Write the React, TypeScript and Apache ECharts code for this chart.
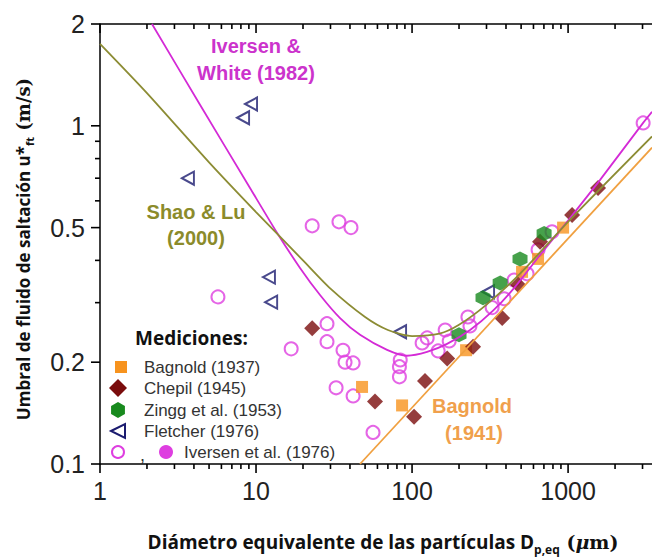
import React, { useEffect, useRef } from 'react';
import * as echarts from 'echarts';

// ---- data (diameter in µm, threshold in m/s) ----
const bagnold1937 = [[47.8, 0.169], [86.3, 0.149], [222, 0.217], [507, 0.37], [642, 0.404], [929, 0.5]];
const chepil1945 = [[22.9, 0.252], [57.9, 0.153], [103, 0.138], [121, 0.176], [168, 0.205], [246, 0.222], [378, 0.27], [478, 0.339], [661, 0.454], [1061, 0.545], [1557, 0.655]];
const zingg1953 = [[200, 0.241], [285, 0.31], [367, 0.343], [492, 0.404], [702, 0.48]];
const fletcher1976 = [[3.66, 0.7], [8.26, 1.056], [9.29, 1.16], [12.1, 0.357], [12.5, 0.301], [83.8, 0.246], [307, 0.323]];
const iversen1976 = [
  [5.7, 0.312], [16.8, 0.219], [22.9, 0.506], [34.0, 0.52], [40.6, 0.5], [28.5, 0.26], [28.5, 0.23],
  [36.1, 0.217], [37.2, 0.2], [41.9, 0.199], [32.6, 0.168], [41.9, 0.159], [56.2, 0.124],
  [84, 0.203], [83, 0.194], [83, 0.181], [116, 0.228], [125, 0.236], [147, 0.216], [163, 0.249],
  [173, 0.231], [228, 0.272], [235, 0.256], [326, 0.29], [389, 0.308], [451, 0.35], [546, 0.365],
  [642, 0.43], [789, 0.486], [3027, 1.02],
];
const iversenWhite1982 = [[2.154, 2.0], [4.375, 1.154], [9.15, 0.655], [13.63, 0.483], [19.14, 0.38], [25.72, 0.316], [34.56, 0.27], [46.42, 0.241], [69.15, 0.2175], [92.9, 0.209], [124.8, 0.2145], [167.6, 0.2265], [235.4, 0.249], [330.5, 0.284], [457.4, 0.334], [661.5, 0.415], [1030, 0.534], [1604, 0.692], [3026, 1.02], [3450, 1.1]];
const shaoLu2000 = [[1, 1.748], [2, 1.25], [5, 0.78], [10, 0.556], [20, 0.4], [30, 0.33], [50, 0.272], [70, 0.249], [100, 0.239], [150, 0.243], [200, 0.258], [300, 0.296], [500, 0.368], [1000, 0.52], [3450, 0.93]];
const bagnold1941 = [[46.4, 0.1], [3450, 0.862]];

const xMajor = [1, 10, 100, 1000];
const xMinor = [2, 3, 4, 5, 6, 7, 8, 9, 20, 30, 40, 50, 60, 70, 80, 90, 200, 300, 400, 500, 600, 700, 800, 900, 2000, 3000];
const yMajor = [0.1, 0.2, 0.5, 1, 2];
const yMinor = [0.3, 0.4, 0.6, 0.7, 0.8, 0.9];

const C = {
  orange: '#f7931e',
  maroon: '#7a0c0c',
  green: '#188a1e',
  navy: '#1b1b6f',
  magenta: '#de3ee0',
  magLine: '#d42ad6',
  olive: '#8c8c34',
  bagLine: '#f0a040',
};

const SANS = 'Liberation Sans, Arial, sans-serif';
const OPEN = 'Open Sans, sans-serif';
const SERIF = 'DejaVu Serif, Liberation Serif, serif';

const TRI = 'path://M0,5L10,0L10,10Z';
const HEX = 'path://M5,0L9.33,2.5L9.33,7.5L5,10L0.67,7.5L0.67,2.5Z';

const X_MIN = 1, X_MAX = 3450, Y_MIN = 0.1, Y_MAX = 2;
// plot box (grid) in pixels
const G = { left: 100, top: 24, right: 652, bottom: 464 };
const TW = 1.6;

export default function App() {
  const ref = useRef<HTMLDivElement>(null);
  useEffect(() => {
    if (!ref.current) return;
    const chart = echarts.init(ref.current, undefined, { renderer: 'svg' });
    const fmt = (v: number) => String(v);
    const axisLine = { show: true, onZero: false, lineStyle: { color: '#000', width: 1.5 } };

    // tick marks (axis decoration), on the same log mapping as the grid
    const lx = (v: number) => G.left + ((G.right - G.left) * (Math.log10(v) - Math.log10(X_MIN))) / (Math.log10(X_MAX) - Math.log10(X_MIN));
    const ly = (v: number) => G.bottom - ((G.bottom - G.top) * (Math.log10(v) - Math.log10(Y_MIN))) / (Math.log10(Y_MAX) - Math.log10(Y_MIN));
    const ticks: any[] = [];
    const addX = (vals: number[], len: number) => vals.forEach((v) => {
      const x = lx(v);
      ticks.push({ type: 'rect', shape: { x: x - TW / 2, y: G.bottom, width: TW, height: len }, style: { fill: '#000' } });
      ticks.push({ type: 'rect', shape: { x: x - TW / 2, y: G.top, width: TW, height: len }, style: { fill: '#000' } });
    });
    const addY = (vals: number[], len: number) => vals.forEach((v) => {
      const y = ly(v);
      ticks.push({ type: 'rect', shape: { x: G.left - len, y: y - TW / 2, width: len, height: TW }, style: { fill: '#000' } });
    });
    addX(xMajor, 9);
    addX(xMinor, 5);
    addY(yMajor, 9);
    addY(yMinor, 5);
    ticks.push({ type: 'rect', shape: { x: G.left, y: G.top - 0.75, width: G.right - G.left, height: 1.5 }, style: { fill: '#000' } });

    const legendY = [367, 388, 410, 431, 452];
    const legendText = (t: string, x: number, y: number) => ({
      type: 'text', x, y,
      style: { text: t, fontFamily: SANS, fontSize: 17, fill: '#333', verticalAlign: 'middle', align: 'left' },
    });
    const hexPts = (cx: number, cy: number, r: number) => {
      const p: number[][] = [];
      for (let k = 0; k < 6; k++) {
        const a = -Math.PI / 2 + (k * Math.PI) / 3;
        p.push([cx + r * Math.cos(a), cy + r * Math.sin(a)]);
      }
      return p;
    };

    const graphics: any[] = [
      ...ticks,
      // curve labels
      { type: 'text', x: 256, y: 46, style: { text: 'Iversen &', fontFamily: SANS, fontWeight: 'bold', fontSize: 20, fill: '#cc33cc', align: 'center', verticalAlign: 'middle' } },
      { type: 'text', x: 256, y: 73, style: { text: 'White (1982)', fontFamily: SANS, fontWeight: 'bold', fontSize: 20, fill: '#cc33cc', align: 'center', verticalAlign: 'middle' } },
      { type: 'text', x: 196, y: 212, style: { text: 'Shao & Lu', fontFamily: SANS, fontWeight: 'bold', fontSize: 20, fill: '#8b8b2b', align: 'center', verticalAlign: 'middle' } },
      { type: 'text', x: 196, y: 238, style: { text: '(2000)', fontFamily: SANS, fontWeight: 'bold', fontSize: 20, fill: '#8b8b2b', align: 'center', verticalAlign: 'middle' } },
      { type: 'text', x: 472, y: 406, style: { text: 'Bagnold', fontFamily: SANS, fontWeight: 'bold', fontSize: 20, fill: '#f0a04c', align: 'center', verticalAlign: 'middle' } },
      { type: 'text', x: 474, y: 433, style: { text: '(1941)', fontFamily: SANS, fontWeight: 'bold', fontSize: 20, fill: '#f0a04c', align: 'center', verticalAlign: 'middle' } },
      // legend
      { type: 'text', x: 135, y: 338, style: { text: 'Mediciones:', fontFamily: OPEN, fontWeight: 'bold', fontSize: 19, fill: '#111', verticalAlign: 'middle' } },
      { type: 'rect', shape: { x: 115, y: legendY[0] - 6, width: 12, height: 12 }, style: { fill: C.orange } },
      { type: 'polygon', shape: { points: [[118, legendY[1] - 9], [127, legendY[1]], [118, legendY[1] + 9], [109, legendY[1]]] }, style: { fill: C.maroon } },
      { type: 'polygon', shape: { points: hexPts(118, legendY[2], 8) }, style: { fill: C.green } },
      { type: 'polygon', shape: { points: [[111, legendY[3]], [125, legendY[3] - 7], [125, legendY[3] + 7]] }, style: { fill: 'none', stroke: C.navy, lineWidth: 2 } },
      { type: 'circle', shape: { cx: 118, cy: legendY[4], r: 6 }, style: { fill: 'none', stroke: C.magenta, lineWidth: 2 } },
      { type: 'text', x: 140, y: legendY[4] + 3, style: { text: ',', fontFamily: SANS, fontSize: 18, fill: '#333', verticalAlign: 'middle' } },
      { type: 'circle', shape: { cx: 166, cy: legendY[4], r: 7 }, style: { fill: C.magenta } },
      legendText('Bagnold (1937)', 144, legendY[0]),
      legendText('Chepil (1945)', 144, legendY[1]),
      legendText('Zingg et al. (1953)', 144, legendY[2]),
      legendText('Fletcher (1976)', 144, legendY[3]),
      legendText('Iversen et al. (1976)', 184, legendY[4]),
      // axis titles
      {
        type: 'text', x: 383, y: 542,
        style: {
          text: '{a|Diámetro equivalente de las partículas D}{s|p,eq}{b| (}{m|μ}{b|m)}',
          align: 'center', verticalAlign: 'middle',
          rich: {
            a: { fontFamily: OPEN, fontWeight: 'bold', fontSize: 19, fill: '#111', lineHeight: 26 },
            s: { fontFamily: OPEN, fontWeight: 'bold', fontSize: 12, fill: '#111', verticalAlign: 'bottom', lineHeight: 14 },
            b: { fontFamily: SERIF, fontWeight: 'bold', fontSize: 19, fill: '#111', lineHeight: 26 },
            m: { fontFamily: SERIF, fontWeight: 'bold', fontStyle: 'italic', fontSize: 19, fill: '#111', lineHeight: 26 },
          },
        },
      },
      {
        type: 'text', x: 23, y: 249, rotation: Math.PI / 2,
        style: {
          text: '{a|Umbral de fluido de saltación u*}{s|ft}{b| (m/s)}',
          align: 'center', verticalAlign: 'middle',
          rich: {
            a: { fontFamily: OPEN, fontWeight: 'bold', fontSize: 17, fill: '#111', lineHeight: 24 },
            s: { fontFamily: OPEN, fontWeight: 'bold', fontSize: 11, fill: '#111', verticalAlign: 'bottom', lineHeight: 13 },
            b: { fontFamily: SERIF, fontWeight: 'bold', fontSize: 18, fill: '#111', lineHeight: 24 },
          },
        },
      },
    ];

    const option: any = {
      animation: false,
      backgroundColor: '#fff',
      grid: { left: G.left, right: 652 - G.right, top: G.top, bottom: 557 - G.bottom, containLabel: false },
      xAxis: {
        type: 'log', logBase: 10, min: X_MIN, max: X_MAX, position: 'bottom', axisLine,
        axisTick: { show: false }, splitLine: { show: false },
        axisLabel: { customValues: xMajor, formatter: fmt, fontFamily: SANS, fontSize: 25, color: '#222', margin: 14 },
      },
      yAxis: {
        type: 'log', logBase: 10, min: Y_MIN, max: Y_MAX, position: 'left', axisLine,
        axisTick: { show: false }, splitLine: { show: false },
        axisLabel: { customValues: yMajor, formatter: fmt, fontFamily: SANS, fontSize: 25, color: '#222', margin: 15 },
      },
      series: [
        {
          name: 'Iversen et al. (1976)', type: 'scatter', data: iversen1976, symbol: 'circle', symbolSize: 13,
          itemStyle: { color: 'rgba(255,255,255,0)', borderColor: C.magenta, borderWidth: 2 },
        },
        {
          name: 'Fletcher (1976)', type: 'scatter', data: fletcher1976, symbol: TRI, symbolSize: [12, 13],
          itemStyle: { color: 'rgba(255,255,255,0)', borderColor: C.navy, borderWidth: 2 },
        },
        { name: 'Bagnold (1937)', type: 'scatter', data: bagnold1937, symbol: 'rect', symbolSize: 12, itemStyle: { color: C.orange } },
        { name: 'Chepil (1945)', type: 'scatter', data: chepil1945, symbol: 'diamond', symbolSize: 16, itemStyle: { color: C.maroon } },
        { name: 'Zingg et al. (1953)', type: 'scatter', data: zingg1953, symbol: HEX, symbolSize: 15, itemStyle: { color: C.green } },
        {
          name: 'Iversen & White (1982)', type: 'line', data: iversenWhite1982, smooth: 0.25, showSymbol: false,
          lineStyle: { color: C.magLine, width: 1.8 }, z: 5,
        },
        {
          name: 'Shao & Lu (2000)', type: 'line', data: shaoLu2000, smooth: 0.25, showSymbol: false,
          lineStyle: { color: C.olive, width: 1.8 }, z: 5,
        },
        {
          name: 'Bagnold (1941)', type: 'line', data: bagnold1941, showSymbol: false,
          lineStyle: { color: C.bagLine, width: 1.8 }, z: 5,
        },
      ],
      graphic: graphics,
    };
    chart.setOption(option);
    return () => chart.dispose();
  }, []);
  return <div ref={ref} style={{ position: 'absolute', left: 0, top: 0, width: 652, height: 557 }} />;
}
